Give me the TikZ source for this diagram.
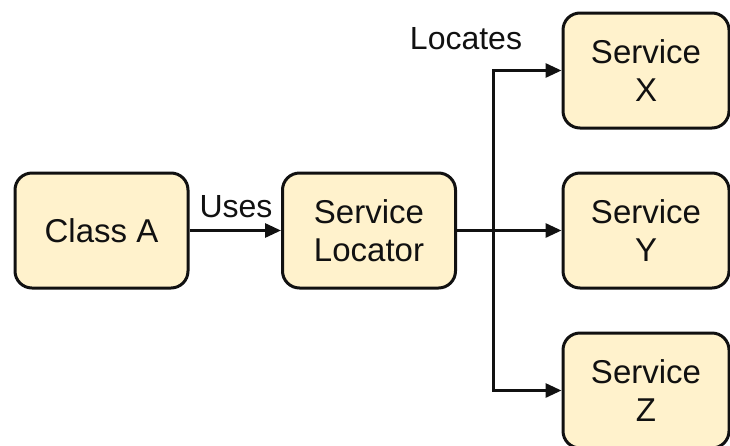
\documentclass[tikz,border=0pt]{standalone}
\usepackage{fontspec}
\setmainfont{Liberation Sans}
\usetikzlibrary{arrows.meta}
\definecolor{boxfill}{HTML}{FFF2CC}
\definecolor{ink}{HTML}{111111}
\begin{document}
\begin{tikzpicture}[x=1pt,y=-1pt,
  block/.style={draw=ink, fill=boxfill, line width=3pt, rounded corners=17pt,
    minimum width=#1, minimum height=115pt, align=center, inner sep=0pt,
    font=\fontsize{33pt}{38pt}\selectfont, text=ink},
  block/.default=173pt,
  link/.style={draw=ink, line width=3pt, -{Triangle[length=16pt,width=14pt]}},
  tag/.style={font=\fontsize{32pt}{38pt}\selectfont, text=ink, inner sep=0pt}]
  \useasboundingbox (0,0) rectangle (730,445);
  \clip (0,0) rectangle (730,445);

  % boxes
  \node[block] (classA) at (101.5,230.5) {Class A};
  \node[block] (locator) at (369,230.5) {Service\\Locator};
  \node[block=166pt] (svcX) at (646,70.5) {Service\\X};
  \node[block=166pt] (svcY) at (646,230.5) {Service\\Y};
  \node[block=166pt] (svcZ) at (646,390.5) {Service\\Z};

  % branching point of the locator lines
  \coordinate (fork) at (493,230.5);

  % connectors
  \draw[link] (classA) -- (locator);
  \draw[link] (locator) -- (svcY);
  \draw[link] (fork) |- (svcX.west);
  \draw[link] (fork) |- (svcZ.west);

  % labels
  \node[tag] (uses) at (236,207) {Uses};
  \node[tag] (locates) at (466,39) {Locates};
\end{tikzpicture}
\end{document}
